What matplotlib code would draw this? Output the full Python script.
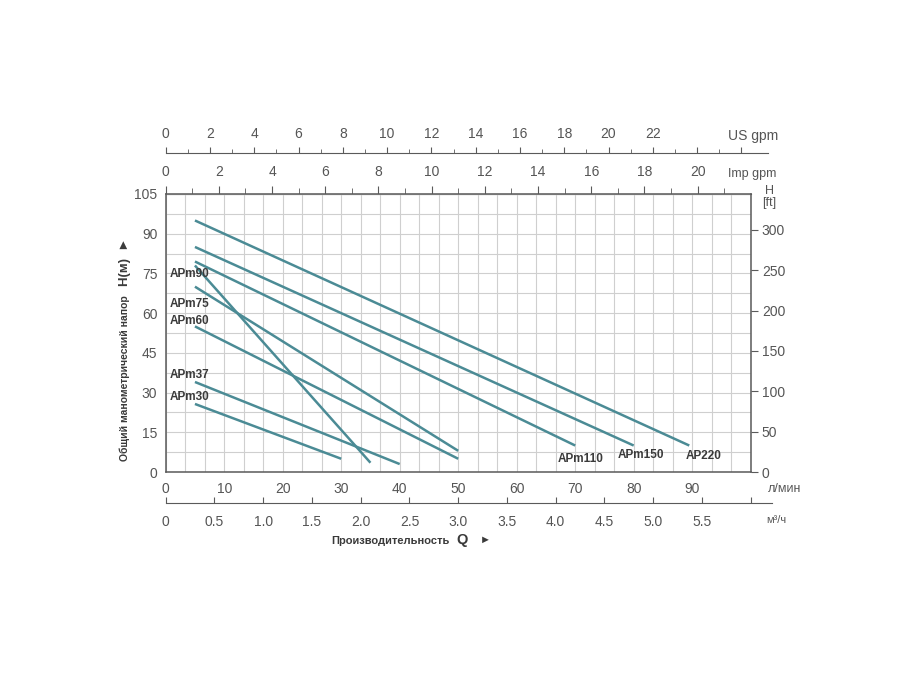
import numpy as np
import matplotlib
matplotlib.use("Agg")
import matplotlib.pyplot as plt

plt.rcParams['font.family'] = ['Liberation Sans', 'DejaVu Sans']

# ── pump curves: flow (л/мин) vs head (м) ──
ap220_q = [5, 89.5]
ap220_h = [95, 10]
apm150_q = [5, 80]
apm150_h = [85, 10]
apm110_q = [5, 70]
apm110_h = [79.5, 10]
apm90_q = [5, 35]
apm90_h = [78, 3.5]
apm75_q = [5, 50]
apm75_h = [70, 8]
apm60_q = [5, 50]
apm60_h = [55, 5]
apm37_q = [5, 40]
apm37_h = [34, 3]
apm30_q = [5, 30]
apm30_h = [25.7, 5]

curves = [(ap220_q, ap220_h), (apm150_q, apm150_h), (apm110_q, apm110_h),
          (apm90_q, apm90_h), (apm75_q, apm75_h), (apm60_q, apm60_h),
          (apm37_q, apm37_h), (apm30_q, apm30_h)]

left_names = ["APm90", "APm75", "APm60", "APm37", "APm30"]
right_names = ["APm110", "APm150", "AP220"]

lpm_ticks = list(range(0, 100, 10))
head_ticks = list(range(0, 106, 15))
ft_ticks = list(range(0, 301, 50))
imp_ticks = list(range(0, 21, 2))
us_ticks = list(range(0, 23, 2))
m3h_ticks = [0, 0.5, 1.0, 1.5, 2.0, 2.5, 3.0, 3.5, 4.0, 4.5, 5.0, 5.5]

LPM_PER_US = 3.785
LPM_PER_IMP = 4.546
LPM_PER_M3H = 1000 / 60
FT_PER_M = 3.2808

CURVE_C = "#4b8b95"
GRID_C = "#cfcfcf"
SPINE_C = "#5a5a5a"
TXT_C = "#3a3a3a"
TICK_C = "#555555"

W, H = 913, 686
fig = plt.figure(figsize=(W / 100, H / 100), dpi=100)

# main plot frame in pixels
x0, x1, y_top, y_bot = 165.7, 750.7, 194, 472
px_per_lpm = (x1 - x0) / 100.0

ax = fig.add_axes([x0 / W, 1 - y_bot / H, (x1 - x0) / W, (y_bot - y_top) / H])
ax.set_xlim(0, 100)
ax.set_ylim(0, 105)
ax.set_xticks(lpm_ticks)
ax.set_xticklabels([str(t) for t in lpm_ticks])
ax.set_xticks(np.arange(0, 100.01, 10 / 3), minor=True)
ax.set_yticks(head_ticks)
ax.set_yticks(np.arange(0, 105.01, 7.5), minor=True)
ax.grid(which='both', color=GRID_C, lw=0.8)
ax.set_axisbelow(True)
ax.tick_params(which='both', length=0)
ax.tick_params(axis='x', pad=7, labelsize=10, labelcolor=TICK_C)
ax.tick_params(axis='y', pad=6, labelsize=10, labelcolor=TICK_C)
for s in ax.spines.values():
    s.set_color(SPINE_C)
    s.set_linewidth(1.1)

for q, h in curves:
    ax.plot(q, h, color=CURVE_C, lw=1.8, solid_capstyle='butt', zorder=3)

# curve labels
left_pos = [74.7, 63.4, 57.1, 36.6, 28.2]
for name, yy in zip(left_names, left_pos):
    ax.text(0.7, yy, name, fontsize=8.5, fontweight='bold', color=TXT_C,
            ha='left', va='center', zorder=4)
right_pos = [(71, 4.8), (81.3, 6.4), (92, 6.2)]
for name, (xx, yy) in zip(right_names, right_pos):
    ax.text(xx, yy, name, fontsize=8.5, fontweight='bold', color=TXT_C,
            ha='center', va='center', zorder=4)

# right axis in feet
ax2 = ax.twinx()
ax2.set_ylim(0, 105 * FT_PER_M)
ax2.set_yticks(ft_ticks)
ax2.tick_params(axis='y', length=5, color=SPINE_C, pad=3, labelsize=10,
                labelcolor=TICK_C)
for s in ax2.spines.values():
    s.set_visible(False)

# Imp gpm along the top of the plot
sec = ax.secondary_xaxis('top', functions=(lambda q: q / LPM_PER_IMP,
                                           lambda g: g * LPM_PER_IMP))
sec.set_xticks(imp_ticks)
sec.set_xticks(range(0, 22), minor=True)
sec.tick_params(which='major', length=5.5, color=SPINE_C, pad=5, labelsize=10,
                labelcolor=TICK_C)
sec.tick_params(which='minor', length=4, color=SPINE_C)
sec.spines['top'].set_color(SPINE_C)

# US gpm scale
us_right = 768
axu = fig.add_axes([x0 / W, 1 - 153.3 / H, (us_right - x0) / W, 1e-4])
axu.set_xlim(0, (us_right - x0) / px_per_lpm / LPM_PER_US)
axu.set_ylim(0, 1)
axu.set_yticks([])
axu.xaxis.set_ticks_position('top')
axu.xaxis.set_label_position('top')
axu.set_xticks(list(range(0, 27, 2)))
axu.set_xticklabels([str(t) if t in us_ticks else "" for t in range(0, 27, 2)])
axu.set_xticks(range(0, 26), minor=True)
axu.tick_params(which='major', length=4.5, color=SPINE_C, pad=4, labelsize=10,
                labelcolor=TICK_C)
axu.tick_params(which='minor', length=3, color=SPINE_C)
for k, s in axu.spines.items():
    s.set_visible(k == 'top')
axu.spines['top'].set_color(SPINE_C)
axu.patch.set_visible(False)

# m3/h scale
m_right = 772
axm = fig.add_axes([x0 / W, 1 - 502.7 / H, (m_right - x0) / W, 1e-4])
axm.set_xlim(0, (m_right - x0) / px_per_lpm / LPM_PER_M3H)
axm.set_ylim(0, 1)
axm.set_yticks([])
axm.set_xticks(m3h_ticks + [6.0])
axm.set_xticklabels(["0"] + [f"{t:.1f}" for t in m3h_ticks[1:]] + [""])
axm.tick_params(axis='x', direction='in', length=4, color=SPINE_C, pad=9,
                labelsize=10, labelcolor=TICK_C)
for k, s in axm.spines.items():
    s.set_visible(k == 'bottom')
axm.spines['bottom'].set_color(SPINE_C)
axm.patch.set_visible(False)

# unit texts
fig.text(778 / W, 1 - 136 / H, "US gpm", fontsize=10, color=TICK_C,
         ha='right', va='center')
fig.text(776 / W, 1 - 174 / H, "Imp gpm", fontsize=9, color=TICK_C,
         ha='right', va='center')
fig.text(769 / W, 1 - 197 / H, "H\n[ft]", fontsize=9, color=TICK_C,
         ha='center', va='center', linespacing=0.9)
fig.text(801 / W, 1 - 489 / H, "л/мин", fontsize=9, color=TICK_C,
         ha='right', va='center')
fig.text(786 / W, 1 - 520 / H, "м³/ч", fontsize=8, color=TICK_C,
         ha='right', va='center')

# axis titles
fig.text(125 / W, 1 - 378 / H, "Общий манометрический напор", fontsize=7.5,
         fontweight='bold', color=TXT_C, rotation=90, ha='center', va='center')
fig.text(125 / W, 1 - 262 / H, "H(м)  ►", fontsize=9.5, fontweight='bold',
         color=TXT_C, rotation=90, ha='center', va='center')
fig.text(450 / W, 1 - 541 / H, "Производительность", fontsize=8,
         fontweight='bold', color=TXT_C, ha='right', va='center')
fig.text(456 / W, 1 - 540 / H, "Q", fontsize=10.5, fontweight='bold',
         color=TXT_C, ha='left', va='center')
fig.text(480 / W, 1 - 540 / H, "►", fontsize=8, color=TXT_C,
         ha='left', va='center')

fig.savefig("out.png", dpi=100, facecolor='white')
